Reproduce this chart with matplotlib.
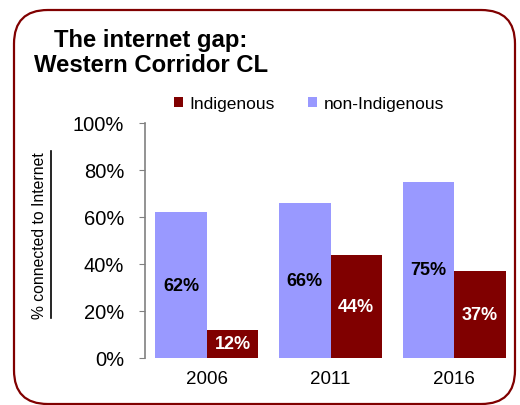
import numpy as np
import matplotlib.pyplot as plt
from matplotlib import font_manager
from matplotlib.patches import FancyBboxPatch
from matplotlib.lines import Line2D

plt.rcParams['font.family'] = ['Liberation Sans', 'DejaVu Sans']

years = ["2006", "2011", "2016"]
indigenous = [0.12, 0.44, 0.37]
non_indigenous = [0.62, 0.66, 0.75]
yticks = [0, 0.2, 0.4, 0.6, 0.8, 1.0]

maroon = "#800000"
lilac = "#9999ff"

W, H = 520, 406
fig = plt.figure(figsize=(W / 100, H / 100), dpi=100)

# rounded red frame around the whole chart
frame = FancyBboxPatch((14 / W, 1 / H), 501 / W, 394 / H,
                       boxstyle="round,pad=0,rounding_size=0.065",
                       transform=fig.transFigure, facecolor="none",
                       edgecolor=maroon, linewidth=1.6, mutation_aspect=W / H)
fig.patches.append(frame)

ax = fig.add_axes([145 / W, 1 - 359 / H, 371 / W, 235 / H])
x = np.arange(len(years))
bw = 0.417
b1 = ax.bar(x - bw / 2, non_indigenous, bw, color=lilac, label="non-Indigenous")
b2 = ax.bar(x + bw / 2, indigenous, bw, color=maroon, label="Indigenous")

ax.bar_label(b1, labels=[f"{v:.0%}" for v in non_indigenous], label_type="center",
             fontsize=13, fontweight="bold", color="black")
ax.bar_label(b2, labels=[f"{v:.0%}" for v in indigenous], label_type="center",
             fontsize=13, fontweight="bold", color="white")

ax.set_xlim(-0.5, 2.5)
ax.set_ylim(0, 1)
ax.set_yticks(yticks)
ax.set_yticklabels([f"{t:.0%}" for t in yticks], fontsize=14.5)
ax.set_xticks(x)
ax.set_xticklabels(years, fontsize=13.5)
ax.tick_params(axis="x", length=0, pad=9)
ax.tick_params(axis="y", length=4, color="#808080", pad=11)
for s in ["top", "right", "bottom"]:
    ax.spines[s].set_visible(False)
ax.spines["left"].set_color("#808080")
ax.spines["left"].set_linewidth(1.2)

# underlined y label, narrow face if available
names = {f.name for f in font_manager.fontManager.ttflist}
if "Liberation Sans Narrow" in names:
    yl_font, yl_size = ["Liberation Sans Narrow", "DejaVu Sans"], 14
else:
    yl_font, yl_size = ["Liberation Sans", "DejaVu Sans"], 11.3
fig.text(40 / W, 1 - 236 / H, "% connected to Internet", rotation=90,
         ha="center", va="center", fontsize=yl_size, family=yl_font)
fig.add_artist(Line2D([51 / W, 51 / W], [1 - 319 / H, 1 - 152 / H],
                      transform=fig.transFigure, color="black", linewidth=1.2))

fig.text(151 / W, 1 - 29 / H, "The internet gap:\nWestern Corridor CL",
         ha="center", va="top", fontsize=17.2, fontweight="bold", linespacing=1.1)

handles = [b2, b1]
fig.legend(handles, ["Indigenous", "non-Indigenous"], loc="center",
           bbox_to_anchor=(309 / W, 1 - 105 / H), ncol=2, frameon=False,
           fontsize=12.5, handlelength=0.5, handleheight=0.5, handletextpad=0.4,
           columnspacing=1.9, borderpad=0)

fig.savefig("out.png", dpi=100)
